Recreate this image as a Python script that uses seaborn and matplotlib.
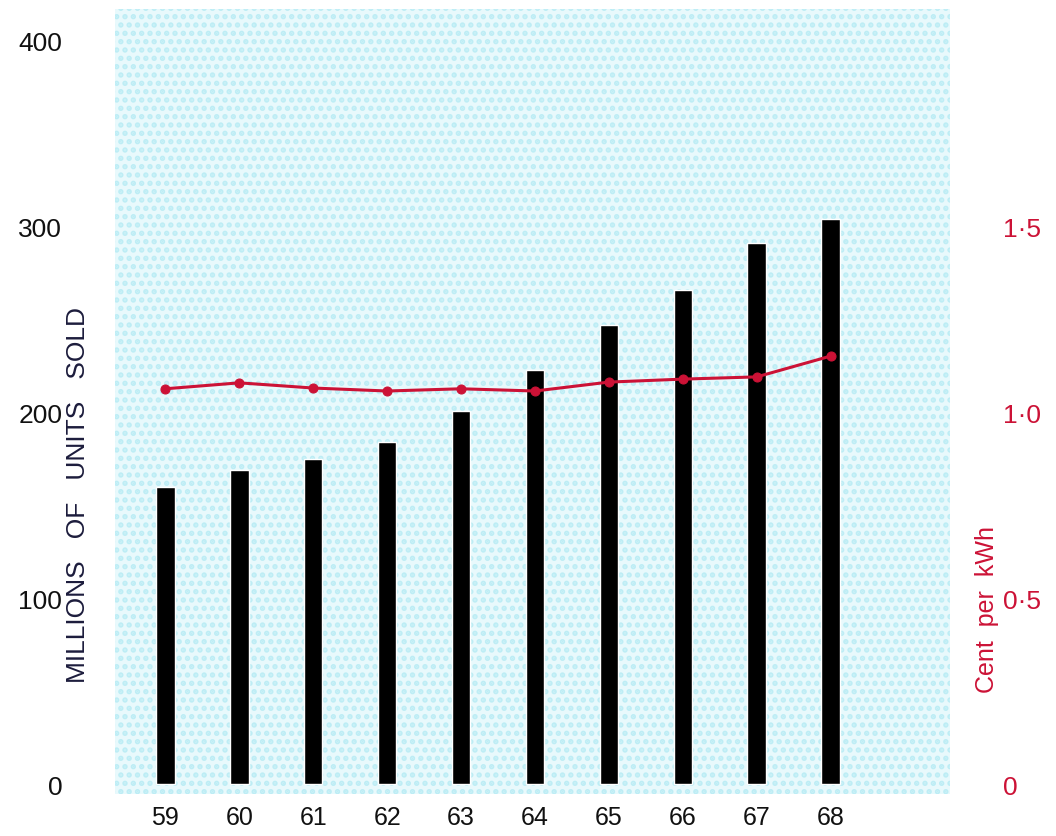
import numpy as np
import pandas as pd
import seaborn as sns
import matplotlib.pyplot as plt
from matplotlib.patches import Rectangle

years = ['59', '60', '61', '62', '63', '64', '65', '66', '67', '68']
units_sold = [160, 169, 175, 184, 201, 223, 247, 266, 291, 304]
cent_per_kwh = [1.064, 1.080, 1.066, 1.058, 1.064, 1.058, 1.082, 1.090, 1.096, 1.152]
left_ticks = [0, 100, 200, 300, 400]
right_ticks = [0, 0.5, 1.0, 1.5]
right_labels = ['0', '0·5', '1·0', '1·5']

RED = '#cc1236'
NAVY = '#1c1c3c'


def main():
    sns.set_style('white')
    plt.rcParams['font.family'] = ['Liberation Sans', 'DejaVu Sans']
    plt.rcParams['hatch.linewidth'] = 2.6

    df = pd.DataFrame({'year': years, 'units': units_sold, 'price': cent_per_kwh})
    pos = np.arange(len(years))

    fig = plt.figure(figsize=(10.56, 8.37), dpi=100)
    ax = fig.add_axes([0.109, 0.05, 0.791, 0.938])
    ax.set_facecolor('#e8f9fc')
    # dotted print screen behind the bars
    ax.add_patch(Rectangle((0, 0), 1, 1, transform=ax.transAxes, facecolor='none',
                           edgecolor='#bdedf5', hatch='..', linewidth=0, zorder=0))

    sns.barplot(df, x='year', y='units', color='black', width=0.25,
                saturation=1, ax=ax, zorder=2)

    ax2 = ax.twinx()
    sns.lineplot(x=pos, y=df['price'], color=RED, linewidth=2.2, marker='o',
                 markersize=6.5, markeredgecolor=RED, ax=ax2)

    ax.set_xlim(-0.68, 10.62)
    ax.set_ylim(-5.4, 417.2)
    ax2.set_ylim(-5.4 / 200, 417.2 / 200)

    ax.set_yticks(left_ticks)
    ax.set_yticklabels([str(t) for t in left_ticks], fontsize=19, color='#111111')
    ax2.set_yticks(right_ticks)
    ax2.set_yticklabels(right_labels, fontsize=19, color=RED)
    ax.tick_params(axis='y', length=0, pad=38)
    ax2.tick_params(axis='y', length=0, pad=38)
    ax.tick_params(axis='x', length=0, pad=8, labelsize=18, labelcolor='#111111')

    for a in (ax, ax2):
        for s in a.spines.values():
            s.set_visible(False)

    ax.set_xlabel('')
    ax.set_ylabel('MILLIONS   OF   UNITS   SOLD', fontsize=19, color=NAVY)
    ax.yaxis.set_label_coords(-0.03, 0.382)
    ax2.set_ylabel('Cent  per  kWh', fontsize=18, color=RED, rotation=90)
    ax2.yaxis.set_label_coords(1.03, 0.236)

    fig.savefig('out.png', dpi=100, facecolor='white')


if __name__ == '__main__':
    main()
